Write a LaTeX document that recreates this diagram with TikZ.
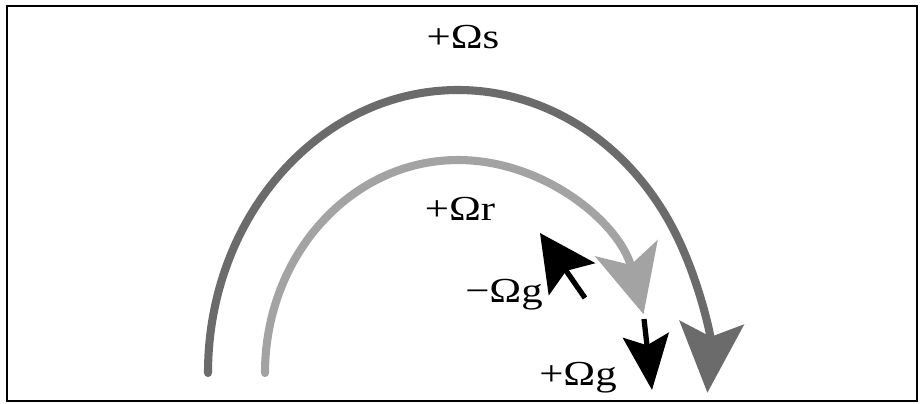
\documentclass[tikz,border=0pt]{standalone}
\usepackage{fontspec}
\setmainfont{Liberation Serif}
\usepackage{tikz}
\usetikzlibrary{arrows.meta}
\usepackage{xcolor}
\definecolor{sungray}{gray}{0.42}
\definecolor{ringgray}{gray}{0.64}

\begin{document}
\begin{tikzpicture}[
  lbl/.style={anchor=base, inner sep=0pt, font=\fontsize{10}{12}\selectfont},
  wheel/.style={line width=2.3pt, line cap=round}]
  \useasboundingbox (0,0) rectangle (9.21,4.03);
  \draw[line width=0.6pt] (0.07,0.02) rectangle (9.17,3.97);

  % sun and ring
  \draw[wheel, sungray, -{Stealth[length=0.70cm, width=0.64cm, inset=0.14cm]}]
    (2.08,0.30) arc[start angle=180, end angle=-4, x radius=2.50, y radius=2.83];
  \draw[wheel, ringgray, -{Stealth[length=0.68cm, width=0.64cm, inset=0.17cm]}]
    (2.65,0.30) arc[start angle=180, end angle=16, x radius=1.93, y radius=2.13];

  % planet gear
  \coordinate (gm0) at (5.85,1.05);
  \coordinate (gm1) at (5.40,1.70);
  \coordinate (gp0) at (6.44,0.84);
  \coordinate (gp1) at (6.52,0.13);
  \draw[line width=1.5pt, -{Stealth[length=0.56cm, width=0.56cm, inset=0.10cm]}] (gm0) -- (gm1);
  \draw[line width=1.5pt, -{Stealth[length=0.55cm, width=0.46cm, inset=0.10cm]}] (gp0) -- (gp1);

  \node[lbl] (ws) at (4.63,3.55) {\scalebox{1.22}[1]{+Ωs}};
  \node[lbl] (wr) at (4.60,1.83) {\scalebox{1.22}[1]{+Ωr}};
  \node[lbl] (wgm) at (5.04,1.01) {\scalebox{1.22}[1]{−Ωg}};
  \node[lbl] (wgp) at (5.78,0.18) {\scalebox{1.22}[1]{+Ωg}};
\end{tikzpicture}
\end{document}
